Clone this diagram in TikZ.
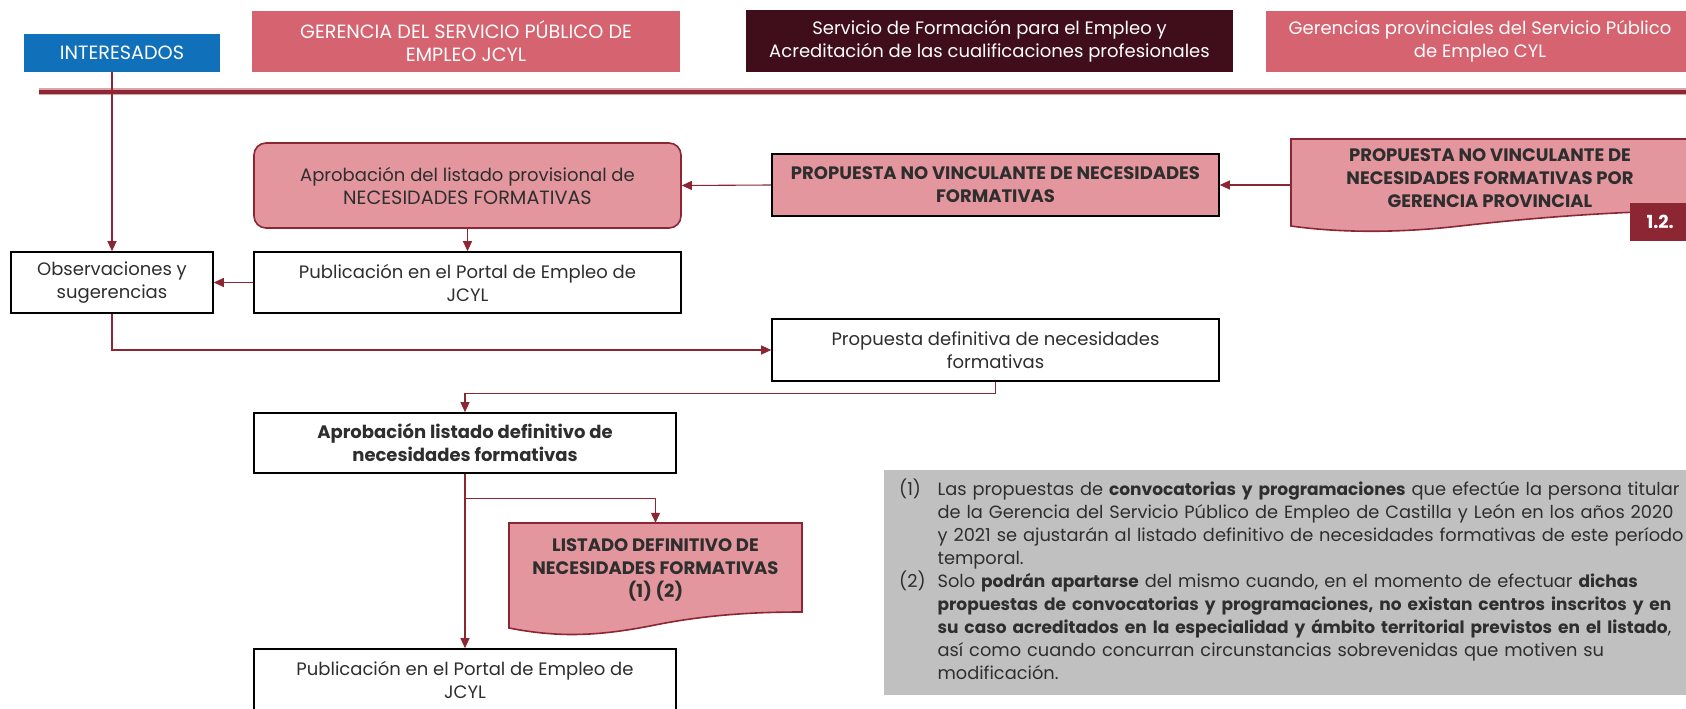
\documentclass[tikz,border=0pt]{standalone}
\usepackage{fontspec}
\setmainfont{Poppins}
\usetikzlibrary{arrows.meta}

\definecolor{azulInt}{HTML}{1170BA}
\definecolor{rosaCab}{HTML}{D56370}
\definecolor{granate}{HTML}{3F0E1A}
\definecolor{rojoOsc}{HTML}{8C2633}
\definecolor{rosaCaja}{HTML}{E3969E}
\definecolor{rosaPalido}{HTML}{D9A3AA}
\definecolor{grisNota}{HTML}{C0C0C0}
\definecolor{textoGris}{HTML}{2E2E2E}
\newcommand{\fuente}{\fontsize{18}{23}\selectfont}
\newcommand{\fuenteMay}{\fontsize{19.2}{23}\selectfont}
\newcommand{\negrita}[1]{{\fontsize{17}{23}\selectfont\bfseries #1}}

\begin{document}
\begin{tikzpicture}[x=1pt,y=-1pt,
    every node/.style={font=\fuente, text=textoGris, align=center, inner sep=0pt},
    cabecera/.style={fill=#1, text=white, minimum height=61},
    caja/.style={draw=black, line width=1.6, fill=white, minimum height=61},
    cajarosa/.style={draw=rojoOsc, line width=1.6, fill=rosaCaja},
    documento/.style={draw=rojoOsc, line width=1.6, fill=rosaCaja},
    flecha/.style={draw=rojoOsc, line width=1.1, -{Triangle[length=10pt,width=9pt]}}]
  \useasboundingbox (0,0) rectangle (1686,709);

  % cabeceras
  \node[cabecera=azulInt, minimum width=196, minimum height=38, font=\fuenteMay] (interesados) at (122,53) {INTERESADOS};
  \node[cabecera=rosaCab, minimum width=428, font=\fuenteMay] (gerencia) at (466,41.5) {GERENCIA DEL SERVICIO PÚBLICO DE\\EMPLEO JCYL};
  \node[cabecera=granate, minimum width=487, minimum height=62] (servicio) at (989.5,41) {Servicio de Formación para el Empleo y\\Acreditación de las cualificaciones profesionales};
  \node[cabecera=rosaCab, minimum width=428] (provinciales) at (1480,41.5) {Gerencias provinciales del Servicio Público\\de Empleo CYL};
  \draw[rosaPalido, line width=6.5] (39,91.5) -- (1700,91.5);
  \draw[rojoOsc, line width=4] (39,91.5) -- (1700,91.5);

  % propuesta provisional
  \node[cajarosa, rounded corners=12, minimum width=427, minimum height=85] (aprobprov) at (467.5,185.5) {Aprobación del listado provisional de\\{\fuenteMay NECESIDADES FORMATIVAS}};
  \node[caja, fill=rosaCaja, minimum width=447, minimum height=62, font=\fuente\bfseries] (propuesta) at (995.5,185) {PROPUESTA NO VINCULANTE DE NECESIDADES\\FORMATIVAS};
  \draw[documento] (1291,139) -- (1700,139) -- (1700,210)
    .. controls (1610,212) and (1540,217) .. (1460,226)
    .. controls (1400,233) and (1340,233) .. (1291,226) -- cycle;
  \node[font=\fuente\bfseries, minimum width=398, minimum height=78] (provdoc) at (1490,178) {PROPUESTA NO VINCULANTE DE\\NECESIDADES FORMATIVAS POR\\GERENCIA PROVINCIAL};
  \node[fill=rojoOsc, text=white, font=\fuente\bfseries, minimum width=60, minimum height=38, anchor=west] (seccion) at (1630,222) {1.2.};

  \node[caja, minimum width=202] (observ) at (112,282.5) {Observaciones y\\sugerencias};
  \node[caja, minimum width=427] (publica) at (467.5,282.5) {Publicación en el Portal de Empleo de\\JCYL};
  \node[caja, minimum width=447, minimum height=62] (propdef) at (995.5,350) {Propuesta definitiva de necesidades\\formativas};

  % listado definitivo
  \node[caja, minimum width=422, minimum height=60, font=\fuente\bfseries] (aprobdef) at (465,443) {Aprobación listado definitivo de\\necesidades formativas};
  \draw[documento] (509,523) -- (802,523) -- (802,612)
    .. controls (760,612) and (710,614) .. (655,625)
    .. controls (600,636) and (560,638) .. (509,628) -- cycle;
  \node[font=\fuente\bfseries, minimum width=293, minimum height=93] (listado) at (655.5,569.5) {LISTADO DEFINITIVO DE\\NECESIDADES FORMATIVAS\\(1) (2)};
  \node[caja, minimum width=422] (publicados) at (465,679.5) {Publicación en el Portal de Empleo de\\JCYL};

  \node[fill=grisNota, anchor=north west, text width=790, minimum height=225, inner xsep=15, align=left,
        font=\fontsize{17.8}{23}\selectfont] (notas) at (884,470)
    {\begin{tabular}{@{}l@{\hspace{12pt}}l@{}}
     (1) & Las propuestas de \negrita{convocatorias y programaciones} que efectúe la persona titular\\
         & de la Gerencia del Servicio Público de Empleo de Castilla y León en los años 2020\\
         & y 2021 se ajustarán al listado definitivo de necesidades formativas de este período\\
         & temporal.\\
     (2) & Solo \negrita{podrán apartarse} del mismo cuando, en el momento de efectuar \negrita{dichas}\\
         & \negrita{propuestas de convocatorias y programaciones, no existan centros inscritos y en}\\
         & \negrita{su caso acreditados en la especialidad y ámbito territorial previstos en el listado},\\
         & así como cuando concurran circunstancias sobrevenidas que motiven su\\
         & modificación.
     \end{tabular}};

  % conectores
  \draw[flecha] (interesados.south -| observ.north) -- (observ.north);
  \draw[flecha] (provdoc.west |- propuesta.east) -- (propuesta.east);
  \draw[flecha] (propuesta.west) -- (aprobprov.east);
  \draw[flecha] (aprobprov.south) -- (publica.north);
  \draw[flecha] (publica.west) -- (observ.east);
  \draw[flecha] (observ.south) |- (propdef.west);
  \draw[flecha] (propdef.south) -- ++(0,12) -| (aprobdef.north);
  \draw[flecha] (aprobdef.south) -- (publicados.north);
  \draw[flecha] ([yshift=-25pt]aprobdef.south) -| (listado.north);
\end{tikzpicture}
\end{document}
